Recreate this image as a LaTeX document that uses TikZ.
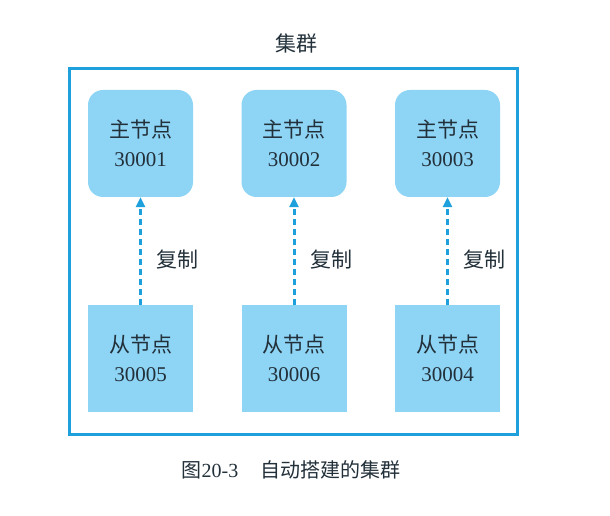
\documentclass[tikz,border=0pt]{standalone}
\usepackage{fontspec}
\setmainfont{Liberation Serif}
\newfontfamily\cjk{Noto Sans CJK SC}
\usetikzlibrary{arrows.meta}
\definecolor{framec}{HTML}{1EA0DC}
\definecolor{fillc}{HTML}{8ED4F5}
\definecolor{txtc}{HTML}{22303A}
\tikzset{
  primary/.style={fill=fillc, draw=none, rounded corners=15pt, minimum width=105pt, minimum height=107pt, inner sep=0pt},
  secondary/.style={fill=fillc, draw=none, minimum width=105pt, minimum height=107pt, inner sep=0pt},
  repl/.style={draw=framec, line width=3pt, dash pattern=on 6pt off 4pt, -{Triangle[length=10pt,width=9pt]}},
  lbl/.style={text=txtc, font=\fontsize{21}{25}\selectfont},
}
\begin{document}
\begin{tikzpicture}[x=1pt,y=1pt]
\useasboundingbox (0,0) rectangle (610,516);
\fill[white] (0,0) rectangle (610,516);
\node[lbl] (title) at (296,472) {\cjk 集群};
\draw[framec, line width=3pt] (69,447) rectangle (517,81);
\node[primary] (p1) at (140.5,372.5) {};
\node[primary] (p2) at (294,372.5) {};
\node[primary] (p3) at (447.5,372.5) {};
\node[secondary] (s1) at (140.5,157) {};
\node[secondary] (s2) at (294,157) {};
\node[secondary] (s3) at (447.5,157) {};
\foreach \n/\num in {p1/30001,p2/30002,p3/30003}{
  \node[lbl] at ([yshift=14pt]\n.center) {\cjk 主节点};
  \node[lbl] at ([yshift=-16pt]\n.center) {\num};
}
\foreach \n/\num in {s1/30005,s2/30006,s3/30004}{
  \node[lbl] at ([yshift=14pt]\n.center) {\cjk 从节点};
  \node[lbl] at ([yshift=-16pt]\n.center) {\num};
}
\draw[repl] (s1.north) -- (p1.south);
\draw[repl] (s2.north) -- (p2.south);
\draw[repl] (s3.north) -- (p3.south);
\node[lbl] (r1) at (177,256) {\cjk 复制};
\node[lbl] (r2) at (331,256) {\cjk 复制};
\node[lbl] (r3) at (484,256) {\cjk 复制};
\node[lbl, font=\fontsize{20}{24}\selectfont] (cap) at (291,46) {{\cjk 图}20-3\hspace{22pt}{\cjk 自动搭建的集群}};
\end{tikzpicture}
\end{document}
